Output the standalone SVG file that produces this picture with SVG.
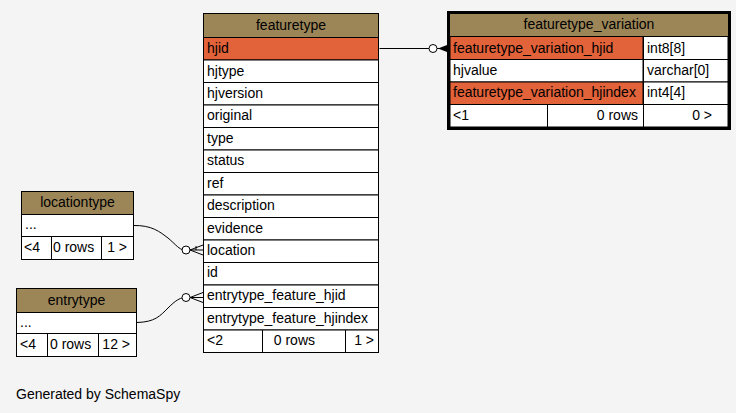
<svg xmlns="http://www.w3.org/2000/svg" width="736" height="413" viewBox="0 0 736 413">
<style>
text{font-family:"Liberation Sans",Arial,sans-serif;font-size:14px;fill:#000}
.hd{fill:#9c8658;stroke:#000;stroke-width:1}
.cell{fill:#fff;stroke:#000;stroke-width:1}
.key{fill:#e2623a;stroke:#000;stroke-width:1}
.c{text-anchor:middle}
.r{text-anchor:end}
.ln{fill:none;stroke:#000;stroke-width:1}
.circ{fill:#fff;stroke:#000;stroke-width:1}
</style>
<rect x="0" y="0" width="736" height="413" fill="#f4f4f4"/>

<g id="connectors">
  <path class="ln" d="M379.5,48.5 L429,48.5"/>
  <circle class="circ" cx="433" cy="48.5" r="4"/>
  <path d="M438,48.5 L447,45 L447,52 Z" fill="#000"/>
  <path class="ln" d="M437,48.5 L447,48.5"/>

  <path class="ln" d="M133,225.5 C152,225 160,232 168,238 C174,243 178,248 182,249.5"/>
  <circle class="circ" cx="186" cy="250" r="4"/>
  <path class="ln" d="M190,250 L203,250 M190,250 L203,245 M190,250 L203,255 M196,250 L196,246"/>

  <path class="ln" d="M137,322.5 C155,322 160,316 168,308 C174,302 178,299 182,298"/>
  <circle class="circ" cx="186" cy="297.5" r="4"/>
  <path class="ln" d="M190,297.5 L203,297.5 M190,297.5 L203,292.5 M190,297.5 L203,302.5"/>
</g>

<g id="featuretype">
  <rect class="hd" x="203.5" y="13.5" width="175" height="24"/>
  <text class="c" x="291" y="30">featuretype</text>
  <rect class="key" x="203.5" y="37.5" width="175" height="22.5"/>
  <text x="207" y="53">hjid</text>
  <rect class="cell" x="203.5" y="60" width="175" height="22.5"/>
  <text x="207" y="76">hjtype</text>
  <rect class="cell" x="203.5" y="82.5" width="175" height="22.5"/>
  <text x="207" y="98">hjversion</text>
  <rect class="cell" x="203.5" y="105" width="175" height="22.5"/>
  <text x="207" y="120">original</text>
  <rect class="cell" x="203.5" y="127.5" width="175" height="22.5"/>
  <text x="207" y="143">type</text>
  <rect class="cell" x="203.5" y="150" width="175" height="22.5"/>
  <text x="207" y="165">status</text>
  <rect class="cell" x="203.5" y="172.5" width="175" height="22.5"/>
  <text x="207" y="188">ref</text>
  <rect class="cell" x="203.5" y="195" width="175" height="22.5"/>
  <text x="207" y="210">description</text>
  <rect class="cell" x="203.5" y="217.5" width="175" height="22.5"/>
  <text x="207" y="233">evidence</text>
  <rect class="cell" x="203.5" y="240" width="175" height="22.5"/>
  <text x="207" y="255">location</text>
  <rect class="cell" x="203.5" y="262.5" width="175" height="22.5"/>
  <text x="207" y="277">id</text>
  <rect class="cell" x="203.5" y="285" width="175" height="22.5"/>
  <text x="207" y="300">entrytype_feature_hjid</text>
  <rect class="cell" x="203.5" y="307.5" width="175" height="22.5"/>
  <text x="207" y="323">entrytype_feature_hjindex</text>
  <rect class="cell" x="203.5" y="330" width="175" height="22.5"/>
  <path class="ln" d="M262.5,330 V352.5 M345.5,330 V352.5"/>
  <text x="207" y="345">&lt;2</text>
  <text class="r" x="315" y="345">0 rows</text>
  <text class="r" x="374" y="345">1 &gt;</text>
</g>

<g id="featuretype_variation">
  <rect x="448.5" y="12.5" width="281" height="116" fill="#fff" stroke="#000" stroke-width="3"/>
  <rect x="450" y="14" width="278" height="22" fill="#9c8658"/>
  <text class="c" x="589" y="29">featuretype_variation</text>
  <rect class="key" x="450" y="36.5" width="193" height="23"/>
  <text x="453" y="53">featuretype_variation_hjid</text>
  <rect class="cell" x="643.5" y="36.5" width="84.5" height="23"/>
  <text x="647" y="53">int8[8]</text>
  <rect class="cell" x="450" y="59.5" width="193" height="22.5"/>
  <text x="453" y="75">hjvalue</text>
  <rect class="cell" x="643.5" y="59.5" width="84.5" height="22.5"/>
  <text x="647" y="75">varchar[0]</text>
  <rect class="key" x="450" y="82" width="193" height="22.5"/>
  <text x="453" y="97">featuretype_variation_hjindex</text>
  <rect class="cell" x="643.5" y="82" width="84.5" height="22.5"/>
  <text x="647" y="97">int4[4]</text>
  <rect class="cell" x="450" y="104.5" width="278" height="22.5" fill="none"/>
  <path class="ln" d="M547.5,104.5 V127 M643.5,104.5 V127"/>
  <text x="453" y="120">&lt;1</text>
  <text class="r" x="638" y="120">0 rows</text>
  <text class="r" x="712" y="120">0 &gt;</text>
</g>

<g id="locationtype">
  <rect class="hd" x="21.5" y="191.5" width="112" height="23"/>
  <text class="c" x="77.5" y="207">locationtype</text>
  <rect class="cell" x="21.5" y="214.5" width="112" height="22"/>
  <text x="25" y="229">...</text>
  <rect class="cell" x="21.5" y="236.5" width="112" height="23"/>
  <path class="ln" d="M51.5,236.5 V259.5 M101.5,236.5 V259.5"/>
  <text x="24" y="252">&lt;4</text>
  <text x="53" y="252">0 rows</text>
  <text class="r" x="127" y="252">1 &gt;</text>
</g>

<g id="entrytype">
  <rect class="hd" x="16.5" y="288.5" width="120" height="24"/>
  <text class="c" x="76.5" y="305">entrytype</text>
  <rect class="cell" x="16.5" y="312.5" width="120" height="21"/>
  <text x="20" y="327">...</text>
  <rect class="cell" x="16.5" y="333.5" width="120" height="23"/>
  <path class="ln" d="M47.5,333.5 V356.5 M98.5,333.5 V356.5"/>
  <text x="20" y="349">&lt;4</text>
  <text x="50" y="349">0 rows</text>
  <text class="r" x="130" y="349">12 &gt;</text>
</g>

<text x="16" y="399">Generated by SchemaSpy</text>
</svg>
